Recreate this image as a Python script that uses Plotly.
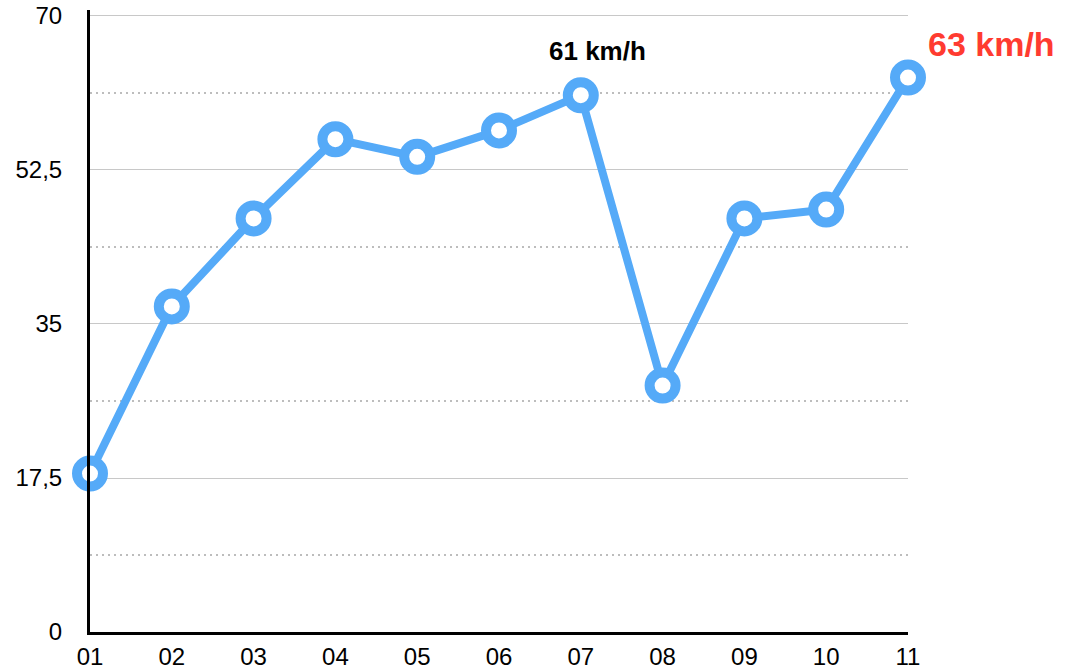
import plotly.graph_objects as go

categories = ["01", "02", "03", "04", "05", "06", "07", "08", "09", "10", "11"]
speeds = [18, 37, 47, 56, 54, 57, 61, 28, 47, 48, 63]
y_ticks = [0, 17.5, 35, 52.5, 70]
y_tick_labels = ["0", "17,5", "35", "52,5", "70"]
y_minor = [8.75, 26.25, 43.75, 61.25]

BLUE = "#55AAF8"
RED = "#FF3B30"
FONT = "Liberation Sans, Arial, Helvetica, sans-serif"

xs = list(range(len(categories)))

fig = go.Figure()
fig.add_trace(go.Scatter(
    x=xs, y=speeds, mode="lines+markers",
    line=dict(color=BLUE, width=8),
    marker=dict(size=26, color="white", line=dict(color=BLUE, width=10)),
    cliponaxis=False, showlegend=False, hoverinfo="skip",
))

max_i = speeds.index(max(speeds[:-1]))
fig.add_annotation(x=xs[max_i], y=speeds[max_i], text=f"<b>{speeds[max_i]} km/h</b>",
                   showarrow=False, xshift=17, yshift=44,
                   font=dict(family=FONT, size=26, color="black"))
fig.add_annotation(x=xs[-1], y=speeds[-1], text=f"<b>{speeds[-1]} km/h</b>",
                   showarrow=False, xanchor="left", xshift=18, yshift=34,
                   font=dict(family=FONT, size=34, color=RED))

fig.update_layout(
    template="none",
    width=1065, height=672,
    margin=dict(l=90, r=157, t=10, b=40, autoexpand=False),
    plot_bgcolor="white", paper_bgcolor="white",
    font=dict(family=FONT, size=24, color="black"),
    xaxis=dict(
        range=[0, 10], tickmode="array", tickvals=xs, ticktext=categories,
        showgrid=False, zeroline=False, showline=True, linecolor="black",
        linewidth=3, ticks="", ticklabelstandoff=1, layer="above traces",
        automargin=False, ticklabeloverflow="allow",
    ),
    yaxis=dict(
        range=[0, 70.68], tickmode="array", tickvals=y_ticks, ticktext=y_tick_labels,
        showgrid=True, gridcolor="#c8c8c8", gridwidth=1, zeroline=False,
        showline=True, linecolor="black", linewidth=3, ticks="",
        ticklabelstandoff=20, layer="above traces", automargin=False,
        ticklabeloverflow="allow",
        minor=dict(tickvals=y_minor, showgrid=True, gridcolor="#bdbdbd",
                   gridwidth=2, griddash="2px,4px", ticks=""),
    ),
)

fig.write_html(
    "out.html",
    config={"displayModeBar": False, "staticPlot": True},
    post_script="document.body.style.margin='0';document.body.style.overflow='hidden';",
)
